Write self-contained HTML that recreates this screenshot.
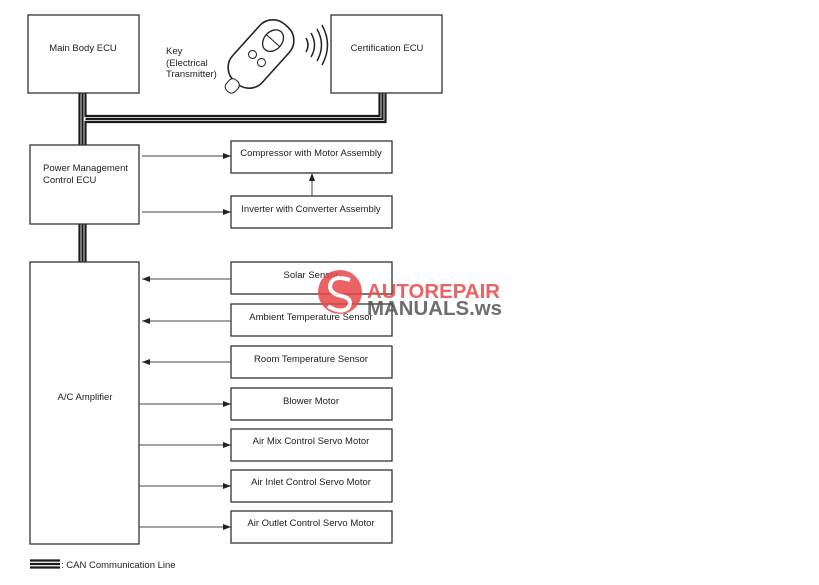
<!DOCTYPE html>
<html><head><meta charset="utf-8"><style>
html,body{margin:0;padding:0;background:#fff;}
svg{display:block;font-family:"Liberation Sans",sans-serif;}
</style></head><body>
<svg width="819" height="585" viewBox="0 0 819 585" xmlns="http://www.w3.org/2000/svg">
<defs><marker id="a" markerWidth="8" markerHeight="6" refX="8" refY="3" orient="auto" markerUnits="userSpaceOnUse"><path d="M0,0 L8,3 L0,6z" fill="#222"/></marker></defs>
<g fill="none" stroke="#1a1a1a" stroke-width="2.2">
<path d="M79.5 93 V145 M82.5 93 V145 M85.5 93 V116 H379.5 V93 M85.5 145 V122 H385.5 V93 M85.5 119 H382.5 V93"/>
<path d="M79.5 224 V262 M82.5 224 V262 M85.5 224 V262"/>
<path d="M30 560.5 H60 M30 564 H60 M30 567.5 H60"/>
</g>
<g fill="#fff" stroke="#333" stroke-width="1.3">
<rect x="28" y="15" width="111" height="78"/>
<rect x="331" y="15" width="111" height="78"/>
<rect x="30" y="145" width="109" height="79"/>
<rect x="30" y="262" width="109" height="282"/>
<rect x="231" y="141" width="161" height="32"/>
<rect x="231" y="196" width="161" height="32"/>
<rect x="231" y="262" width="161" height="32"/>
<rect x="231" y="304" width="161" height="32"/>
<rect x="231" y="346" width="161" height="32"/>
<rect x="231" y="388" width="161" height="32"/>
<rect x="231" y="429" width="161" height="32"/>
<rect x="231" y="470" width="161" height="32"/>
<rect x="231" y="511" width="161" height="32"/>
</g>
<g stroke="#444" stroke-width="1" fill="none" marker-end="url(#a)">
<path d="M142 156 H231"/><path d="M142 212 H231"/><path d="M312 196 V173"/>
<path d="M231 279 H142"/><path d="M231 321 H142"/><path d="M231 362 H142"/>
<path d="M139 404 H231"/><path d="M139 445 H231"/><path d="M139 486 H231"/><path d="M139 527 H231"/>
</g>
<g transform="translate(261,54) rotate(-48)">
<rect x="-38" y="-20" width="76" height="40" rx="18" fill="#fff" stroke="#222" stroke-width="1.6"/>
<rect x="-50" y="-6" width="14" height="12" rx="5" fill="#fff" stroke="#222"/>
<ellipse cx="18" cy="0" rx="12" ry="9" fill="#fff" stroke="#222" stroke-width="1.3"/>
<path d="M18 -9 V9" stroke="#222"/>
<circle cx="-6" cy="-6" r="4" fill="#fff" stroke="#222"/><circle cx="-6" cy="6" r="4" fill="#fff" stroke="#222"/>
</g>
<g fill="none" stroke="#222" stroke-width="1.5">
<path d="M306 38 q4 7 0 14"/><path d="M311 33 q7 12 0 24"/><path d="M317 29 q9 16 0 32"/><path d="M322 25 q11 20 0 40"/>
</g>
<g font-size="9.5" fill="#222" text-anchor="middle">
<text x="83" y="51">Main Body ECU</text>
<text x="387" y="51">Certification ECU</text>
<text x="311" y="156">Compressor with Motor Assembly</text>
<text x="311" y="212">Inverter with Converter Assembly</text>
<text x="311" y="278">Solar Sensor</text>
<text x="311" y="320">Ambient Temperature Sensor</text>
<text x="311" y="362">Room Temperature Sensor</text>
<text x="311" y="404">Blower Motor</text>
<text x="311" y="444">Air Mix Control Servo Motor</text>
<text x="311" y="485">Air Inlet Control Servo Motor</text>
<text x="311" y="526">Air Outlet Control Servo Motor</text>
<text x="85" y="400">A/C Amplifier</text>
</g>
<g font-size="9.5" fill="#222">
<text x="43" y="171">Power Management</text>
<text x="43" y="183">Control ECU</text>
<text x="166" y="54">Key</text>
<text x="166" y="66">(Electrical</text>
<text x="166" y="77">Transmitter)</text>
<text x="61" y="568">: CAN Communication Line</text>
</g>
<g opacity="0.85">
<circle cx="340" cy="292" r="22" fill="#e8474a"/>
<path d="M350 280 q-18 -6 -20 6 q0 8 12 10 q12 3 6 12 q-8 6 -20 -2" fill="none" stroke="#fff" stroke-width="4"/>
<text x="367" y="298" font-size="20" font-weight="bold" fill="#e8474a" textLength="133" lengthAdjust="spacingAndGlyphs">AUTOREPAIR</text>
<text x="367" y="315" font-size="20" font-weight="bold" fill="#555" textLength="135" lengthAdjust="spacingAndGlyphs">MANUALS.ws</text>
</g>
</svg>
</body></html>
